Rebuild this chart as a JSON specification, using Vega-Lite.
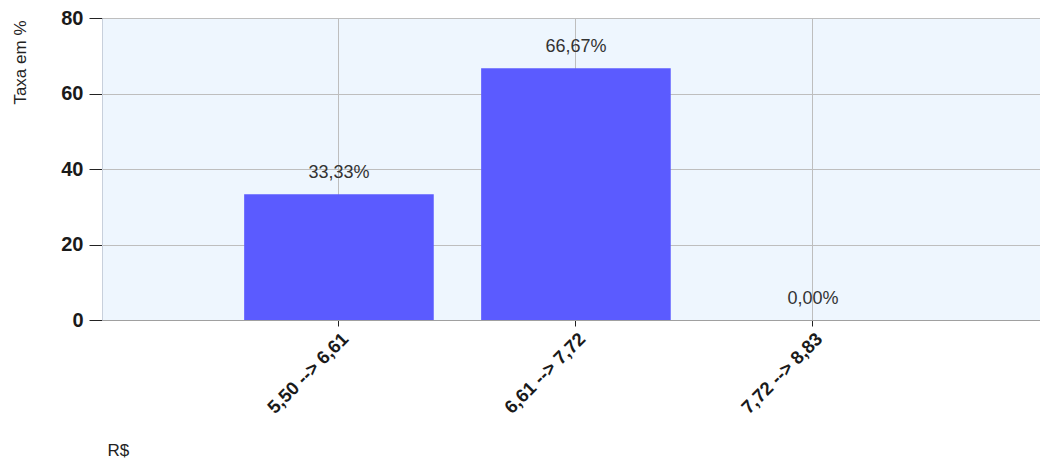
{
  "$schema": "https://vega.github.io/schema/vega-lite/v6.json",
  "autosize": {"type": "none"},
  "padding": {"left": 102, "top": 18, "right": 0, "bottom": 141},
  "width": 938,
  "height": 302,
  "background": "#ffffff",
  "config": {
    "view": {"fill": "#EEF6FE", "stroke": null},
    "font": "Liberation Sans"
  },
  "data": {
    "values": [
      {"faixa": "5,50 --> 6,61", "taxa": 33.33, "rotulo": "33,33%"},
      {"faixa": "6,61 --> 7,72", "taxa": 66.67, "rotulo": "66,67%"},
      {"faixa": "7,72 --> 8,83", "taxa": 0, "rotulo": "0,00%"}
    ]
  },
  "encoding": {
    "x": {
      "field": "faixa",
      "type": "nominal",
      "sort": null,
      "scale": {"paddingInner": 0.2, "paddingOuter": 0.579, "align": 0.518},
      "axis": {
        "title": "R$",
        "titleFont": "Liberation Sans",
        "titleFontSize": 17,
        "titleFontWeight": "normal",
        "titleColor": "#222222",
        "titleAnchor": "start",
        "titleAlign": "left",
        "titleBaseline": "alphabetic",
        "titleX": 5,
        "titleY": 135,
        "labelAngle": -45,
        "labelFont": "Liberation Sans",
        "labelFontSize": 18.5,
        "labelFontWeight": "bold",
        "labelColor": "#1a1a1a",
        "labelPadding": 3,
        "tickSize": 6,
        "tickColor": "#222222",
        "domainColor": "#A0A0A0",
        "grid": true,
        "gridColor": "#BEBEBE",
        "bandPosition": 0.5
      }
    },
    "y": {
      "field": "taxa",
      "type": "quantitative",
      "scale": {"domain": [0, 80], "nice": false},
      "axis": {
        "values": [0, 20, 40, 60, 80],
        "title": "Taxa em %",
        "titleFont": "Liberation Sans",
        "titleFontSize": 17,
        "titleFontWeight": "normal",
        "titleColor": "#222222",
        "titleAngle": -90,
        "titleAlign": "right",
        "titleBaseline": "bottom",
        "titleX": -73,
        "titleY": 2,
        "labelFont": "Liberation Sans",
        "labelFontSize": 20,
        "labelFontWeight": "bold",
        "labelColor": "#1a1a1a",
        "labelPadding": 6,
        "tickSize": 13,
        "tickColor": "#222222",
        "domainColor": "#C8D0DC",
        "grid": true,
        "gridColor": "#BEBEBE"
      }
    }
  },
  "layer": [
    {"mark": {"type": "bar", "color": "#5B5BFF"}},
    {
      "mark": {"type": "text", "baseline": "alphabetic", "dy": -16, "fontSize": 18, "color": "#333333", "font": "Liberation Sans"},
      "encoding": {"text": {"field": "rotulo"}}
    }
  ]
}
